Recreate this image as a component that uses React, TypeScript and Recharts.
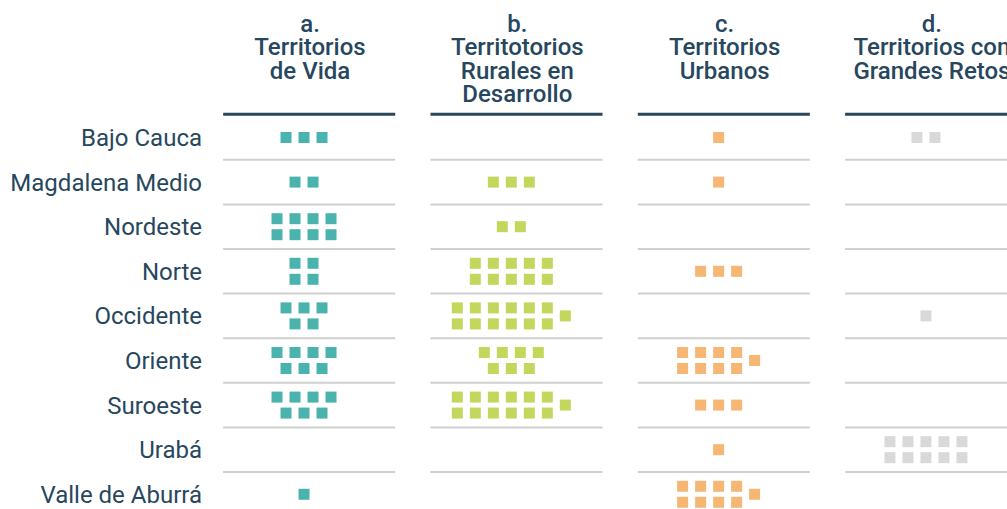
import { ScatterChart, Scatter, XAxis, YAxis, ReferenceLine } from 'recharts';

const regions = [
  'Bajo Cauca',
  'Magdalena Medio',
  'Nordeste',
  'Norte',
  'Occidente',
  'Oriente',
  'Suroeste',
  'Urabá',
  'Valle de Aburrá',
];

// number of municipalities per region, one array per territory type
const territoriosDeVida = [3, 2, 8, 4, 5, 7, 7, 0, 1];
const ruralesEnDesarrollo = [0, 3, 2, 10, 13, 7, 13, 0, 0];
const territoriosUrbanos = [1, 1, 0, 3, 0, 9, 3, 1, 9];
const grandesRetos = [2, 0, 0, 0, 1, 0, 0, 10, 0];

const headerLines = [
  ['a.', 'Territorios', 'de Vida'],
  ['b.', 'Territotorios', 'Rurales en', 'Desarrollo'],
  ['c.', 'Territorios', 'Urbanos'],
  ['d.', 'Territorios con', 'Grandes Retos'],
];

const colors = ['#4bb3ad', '#c4d65c', '#f6b674', '#d9d9d9'];
const TEXT = '#27475e';

const STEP_X = 18 / 207.3;
const STEP_Y = 16 / 44.6;
const SQ = 11;

// arrange n squares in a small block around (0,0), in square units
const arrange = (n: number): [number, number][] => {
  if (n <= 0) return [];
  if (n <= 3) return Array.from({ length: n }, (_, i) => [i - (n - 1) / 2, 0]);
  const extra = n % 2 === 1 && n >= 9;
  const m = extra ? n - 1 : n;
  const top = Math.ceil(m / 2);
  const bottom = m - top;
  const width = extra ? top + 1 : top;
  const shift = -(width - 1) / 2;
  const pts: [number, number][] = [];
  for (let i = 0; i < top; i++) pts.push([shift + i, -0.5]);
  for (let j = 0; j < bottom; j++) pts.push([shift + (top - bottom) / 2 + j, 0.5]);
  if (extra) pts.push([shift + top, 0]);
  return pts;
};

const toPoints = (counts: number[], col: number) =>
  counts.flatMap((n, row) =>
    arrange(n).map(([dx, dy]) => ({ x: col + dx * STEP_X, y: row + dy * STEP_Y }))
  );

const series = [territoriosDeVida, ruralesEnDesarrollo, territoriosUrbanos, grandesRetos];

const Square = (color: string) => (props: any) => (
  <rect x={props.cx - SQ / 2} y={props.cy - SQ / 2} width={SQ} height={SQ} fill={color} />
);

const HeaderTick = (props: any) => {
  const { x, y, payload } = props;
  const lines = headerLines[payload.value] || [];
  return (
    <text
      x={x + 6}
      textAnchor="middle"
      fill={TEXT}
      fontSize={24}
      fontWeight={500}
      fontFamily="Roboto, sans-serif"
    >
      {lines.map((l, i) => (
        <tspan key={i} x={x + 6} y={y - 74 + i * 23.3}>
          {l}
        </tspan>
      ))}
    </text>
  );
};

const cols = [0, 1, 2, 3];
const LEFT = -0.39;
const RIGHT = 0.44;

const App = () => {
  return (
    <div style={{ width: 1007, height: 509 }}>
      <style>{`body{margin:0}`}</style>
      <ScatterChart width={1007} height={509} margin={{ top: 0, right: 0, bottom: 0, left: 0 }}>
        <XAxis
          type="number"
          dataKey="x"
          orientation="top"
          height={114}
          domain={[-0.4535, 3.391]}
          allowDataOverflow
          ticks={cols}
          interval={0}
          axisLine={false}
          tickLine={false}
          tick={<HeaderTick />}
        />
        <YAxis
          type="number"
          dataKey="y"
          width={210}
          domain={[-0.527, 8.33]}
          allowDataOverflow
          reversed
          ticks={regions.map((_, i) => i)}
          interval={0}
          tickFormatter={(v: number) => regions[v] ?? ''}
          axisLine={false}
          tickLine={false}
          tick={{ fontSize: 24, fill: TEXT, fontFamily: 'Roboto, sans-serif' }}
        />
        {cols.map(c =>
          regions.slice(1).map((_, i) => (
            <ReferenceLine
              key={`sep-${c}-${i}`}
              segment={[
                { x: c + LEFT, y: i + 0.5 },
                { x: c + RIGHT, y: i + 0.5 },
              ]}
              stroke="#d0d0d0"
              strokeWidth={2}
              ifOverflow="visible"
            />
          ))
        )}
        {cols.map(c => (
          <ReferenceLine
            key={`head-${c}`}
            segment={[
              { x: c + LEFT, y: -0.523 },
              { x: c + RIGHT, y: -0.523 },
            ]}
            stroke="#2b4759"
            strokeWidth={3}
            ifOverflow="visible"
          />
        ))}
        {series.map((counts, c) => (
          <Scatter
            key={c}
            data={toPoints(counts, c)}
            fill={colors[c]}
            shape={Square(colors[c])}
            isAnimationActive={false}
          />
        ))}
      </ScatterChart>
    </div>
  );
};

export default App;
